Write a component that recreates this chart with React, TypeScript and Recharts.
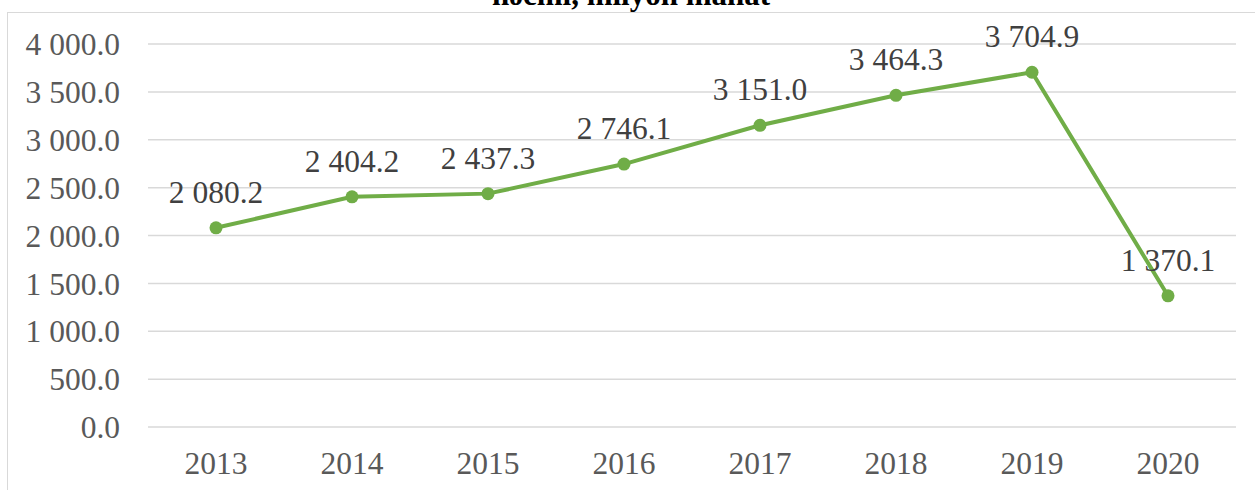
import React from "react";
import { LineChart, Line, XAxis, YAxis, CartesianGrid, LabelList } from "recharts";

const years = ["2013", "2014", "2015", "2016", "2017", "2018", "2019", "2020"];
const values = [2080.2, 2404.2, 2437.3, 2746.1, 3151.0, 3464.3, 3704.9, 1370.1];
const yTicks = [0, 500, 1000, 1500, 2000, 2500, 3000, 3500, 4000];
const titleText = "həcmi, milyon manat";

const data = years.map((y, i) => ({ year: y, value: values[i] }));

const fmt = (n: number) => {
  const s = Number(n).toFixed(1);
  const [ip, dp] = s.split(".");
  return ip.replace(/\B(?=(\d{3})+(?!\d))/g, " ") + "." + dp;
};

const FONT = "'Liberation Serif', 'Times New Roman', serif";
const FS = 31.5;

const renderLabel = (props: any) => {
  const { x, y, value } = props;
  return (
    <text
      x={x}
      y={y - 25}
      textAnchor="middle"
      fontFamily={FONT}
      fontSize={FS}
      fill="#404040"
      style={{ fontFamily: FONT }}
    >
      {fmt(value)}
    </text>
  );
};

export default function App() {
  return (
    <div style={{ position: "absolute", left: 0, top: 0, width: 1255, height: 490, background: "#fff", fontFamily: FONT }}>
      <svg width={1255} height={490} style={{ position: "absolute", left: 0, top: 0 }}>
        <rect x={7.5} y={12.5} width={1300} height={600} fill="none" stroke="#d9d9d9" strokeWidth={1} />
        <text
          x={631}
          y={5}
          textAnchor="middle"
          fontFamily={FONT}
          fontWeight="bold"
          fontSize={31}
          fill="#000"
        >
          {titleText}
        </text>
      </svg>
      <div style={{ position: "absolute", left: 0, top: 0 }}>
        <LineChart
          width={1255}
          height={490}
          data={data}
          margin={{ top: 44, right: 19, bottom: 0, left: 0 }}
          style={{ fontFamily: FONT }}
        >
          <CartesianGrid vertical={false} stroke="#d9d9d9" strokeWidth={1.5} />
          <XAxis
            dataKey="year"
            height={63}
            padding={{ left: 68, right: 68 }}
            axisLine={false}
            tickLine={false}
            tickSize={0}
            tickMargin={25}
            tick={{ fill: "#595959", fontSize: FS, fontFamily: FONT }}
          />
          <YAxis
            width={148}
            domain={[0, 4000]}
            ticks={yTicks}
            axisLine={false}
            tickLine={false}
            tickSize={0}
            tickMargin={28}
            tickFormatter={fmt}
            tick={{ fill: "#595959", fontSize: FS, fontFamily: FONT }}
          />
          <Line
            dataKey="value"
            stroke="#70AD47"
            strokeWidth={4}
            dot={{ r: 6.5, fill: "#70AD47", stroke: "#70AD47", strokeWidth: 0 }}
            activeDot={false}
            isAnimationActive={false}
          >
            <LabelList dataKey="value" content={renderLabel} />
          </Line>
        </LineChart>
      </div>
    </div>
  );
}
